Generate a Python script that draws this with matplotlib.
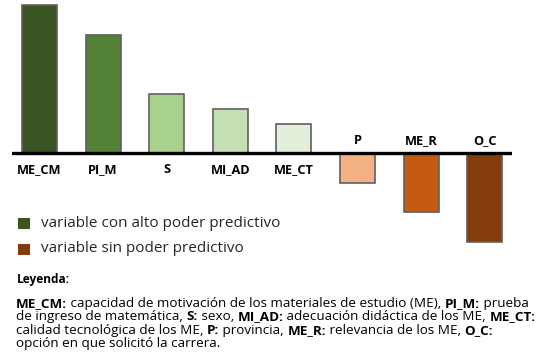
import matplotlib
matplotlib.use("Agg")
import matplotlib.pyplot as plt
from matplotlib.patches import Rectangle

categories = ["ME_CM", "PI_M", "S", "MI_AD", "ME_CT", "P", "ME_R", "O_C"]
values = [5.0, 4.0, 2.0, 1.5, 1.0, -1.0, -2.0, -3.0]
colors = ["#3a5424", "#538135", "#a9d18e", "#c5e0b4", "#e2efda",
          "#f4b183", "#c55a11", "#843c0c"]
legend_labels = ["variable con alto poder predictivo", "variable sin poder predictivo"]
legend_colors = ["#3a5424", "#843c0c"]
legend_title = "Leyenda:"
caption_lines = [
    [("ME_CM:", True), (" capacidad de motivación de los materiales de estudio (ME), ", False),
     ("PI_M:", True), (" prueba", False)],
    [("de ingreso de matemática, ", False), ("S:", True), (" sexo, ", False),
     ("MI_AD:", True), (" adecuación didáctica de los ME, ", False), ("ME_CT:", True)],
    [("calidad tecnológica de los ME, ", False), ("P:", True), (" provincia, ", False),
     ("ME_R:", True), (" relevancia de los ME, ", False), ("O_C:", True)],
    [("opción en que solicitó la carrera.", False)],
]

FONT = "Open Sans"
W, H = 558, 355
fig = plt.figure(figsize=(W / 100, H / 100), dpi=100)

# axes in pixel geometry
x_left, x_right = 12, 512
y_top, y_bot = 2, 248
ax = fig.add_axes([x_left / W, 1 - y_bot / H, (x_right - x_left) / W, (y_bot - y_top) / H])
ax.set_xlim(-0.433, 7.43)
ax.set_ylim(-3.2, 5.1)
ax.axis("off")

xs = list(range(len(categories)))
ax.bar(xs, values, width=0.55, color=colors, edgecolor="#606060", linewidth=1.2, zorder=2)
ax.axhline(0, color="black", linewidth=2.4, zorder=3)

for x, v, c in zip(xs, values, categories):
    off = -16 if v >= 0 else 13
    ax.annotate(c, (x, 0), xytext=(0, off), textcoords="offset pixels",
                ha="center", va="center", fontsize=9.2, fontweight="bold", family=FONT)

def px(x, y):
    return x / W, 1 - y / H

# legend
for i, (lab, col) in enumerate(zip(legend_labels, legend_colors)):
    yc = 223.5 + i * 25.5
    fig.patches.append(Rectangle(px(18, yc + 5.5), 12 / W, 11 / H, transform=fig.transFigure,
                                 facecolor=col, edgecolor="none"))
    fig.text(*px(41, yc), lab, ha="left", va="center", fontsize=11, family=FONT, color="#262626")

fig.text(*px(17, 279), legend_title, ha="left", va="center", fontsize=8.6, fontweight="bold", family=FONT)

renderer = fig.canvas.get_renderer()
for li, line in enumerate(caption_lines):
    y = 307 + li * 13.3
    x = 16
    for txt, bold in line:
        t = fig.text(*px(x, y), txt, ha="left", va="baseline", fontsize=9.7,
                     fontweight="bold" if bold else "normal", family=FONT)
        bb = t.get_window_extent(renderer)
        x = bb.x1

fig.savefig("out.png", dpi=100)
